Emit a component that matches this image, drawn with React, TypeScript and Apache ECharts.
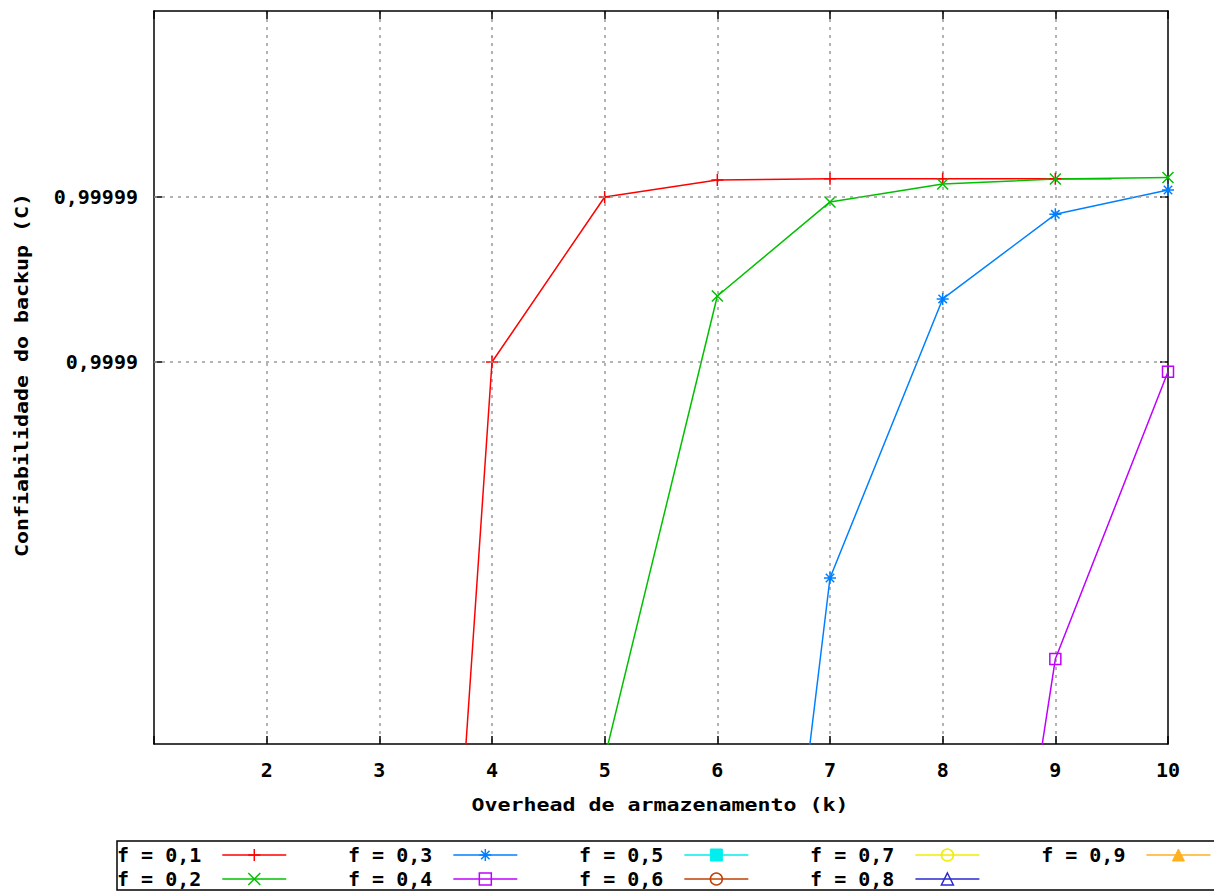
import React, { useEffect, useRef } from 'react';
import * as echarts from 'echarts';

// Series names (legend) and gnuplot-like colours
const SERIES_NAMES = ['f = 0,1', 'f = 0,2', 'f = 0,3', 'f = 0,4', 'f = 0,5', 'f = 0,6', 'f = 0,7', 'f = 0,8', 'f = 0,9'];
const COLORS = ['#ff0000', '#00c000', '#0080ff', '#c000ff', '#00eeee', '#c04000', '#eeee00', '#2a2ad0', '#ffb020'];

// Values: k (storage overhead) vs. number of "nines" of the backup reliability C
// (4 -> 0,9999 ; 5 -> 0,99999). Points below the visible range are kept so the
// lines leave the plot through the bottom edge as in the original.
const F01 = [[3, -6.02], [4, 4.0], [5, 5.0], [6, 5.103], [7, 5.111], [8, 5.111], [9, 5.111], [9.5, 5.111]];
const F02 = [[5, 1.6], [6, 4.4], [7, 4.97], [8, 5.079], [9, 5.109], [10, 5.118]];
const F03 = [[6, -2.96], [7, 2.691], [8, 4.382], [9, 4.895], [10, 5.042]];
const F04 = [[8, -2.24], [9, 2.2], [10, 3.941]];
const F05: number[][] = [];
const F06: number[][] = [];
const F07: number[][] = [];
const F08: number[][] = [];
const F09: number[][] = [];
const SERIES_DATA = [F01, F02, F03, F04, F05, F06, F07, F08, F09];

const X_MIN = 1;
const X_MAX = 10;
const Y_MIN = 1.685;
const Y_MAX = 6.127;
const Y_TICKS = [4, 5];

const X_TITLE = 'Overhead de armazenamento (k)';
const Y_TITLE = 'Confiabilidade do backup (C)';

const PLUS = 'path://M0,5L10,5M5,0L5,10';
const CROSS = 'path://M0,0L10,10M10,0L0,10';
const STAR = 'path://M0,5L10,5M5,0L5,10M1.5,1.5L8.5,8.5M8.5,1.5L1.5,8.5';
const SYMBOLS = [PLUS, CROSS, STAR, 'rect', 'rect', 'circle', 'circle', 'triangle', 'triangle'];
const SYMBOL_SIZES = [12, 11, 12, 11, 10, 7, 7, 10, 10];
const FILLED = [false, false, false, false, true, false, false, false, true];

const FONT = '"DejaVu Sans Mono", monospace';

function yLabel(v: number): string {
  return '0,' + '9'.repeat(Math.round(v));
}

export default function App() {
  const ref = useRef<HTMLDivElement>(null);
  useEffect(() => {
    if (!ref.current) return;
    const chart = echarts.init(ref.current, undefined, { renderer: 'svg' });

    const itemStyleFor = (i: number) =>
      FILLED[i]
        ? { color: COLORS[i], borderColor: COLORS[i], borderWidth: 1 }
        : { color: 'transparent', borderColor: COLORS[i], borderWidth: 1.5 };

    const gridLineStyle = { color: '#9a9a9a', type: [3, 5], width: 1.5 };

    const series: any[] = SERIES_NAMES.map((name, i) => ({
      name,
      type: 'line',
      xAxisIndex: 0,
      yAxisIndex: 0,
      clip: true,
      z: 3,
      symbol: SYMBOLS[i],
      symbolSize: SYMBOL_SIZES[i],
      showAllSymbol: true,
      color: COLORS[i],
      lineStyle: { color: COLORS[i], width: 1.5 },
      itemStyle: itemStyleFor(i),
      data: SERIES_DATA[i].map((p) =>
        Number.isInteger(p[0]) ? p : { value: p, symbol: 'none' }
      ),
    }));

    // horizontal dotted grid lines at the labelled reliability levels
    series.push({
      name: '__grid',
      type: 'line',
      z: 1,
      data: [],
      silent: true,
      markLine: {
        silent: true,
        symbol: 'none',
        label: { show: false },
        lineStyle: gridLineStyle,
        emphasis: { disabled: true },
        data: Y_TICKS.map((v) => ({ yAxis: v })),
      },
    });

    const legendItem = (i: number) => ({
      name: SERIES_NAMES[i],
      itemStyle: itemStyleFor(i),
      lineStyle: { color: COLORS[i], width: 1.5 },
    });

    const legendCommon = {
      orient: 'horizontal',
      left: 117,
      padding: 0,
      align: 'right',
      itemWidth: 64,
      itemHeight: 15,
      itemGap: 61,
      selectedMode: false,
      textStyle: {
        fontFamily: FONT,
        fontWeight: 'bold',
        fontSize: 20,
        color: '#000',
        padding: [0, 16, 0, 0],
      },
    };

    const axisLine = { show: true, lineStyle: { color: '#000', width: 1.5 } };
    const labelFont = { fontFamily: FONT, fontWeight: 'bold', fontSize: 20, color: '#000' };
    const tick = { show: true, inside: true, length: 8, lineStyle: { color: '#000', width: 1.5 } };

    chart.setOption({
      animation: false,
      backgroundColor: '#fff',
      grid: { left: 154, top: 11, right: 46, bottom: 147, containLabel: false },
      xAxis: [
        {
          type: 'value',
          position: 'bottom',
          min: X_MIN,
          max: X_MAX,
          interval: 1,
          axisLine,
          axisTick: tick,
          axisLabel: {
            ...labelFont,
            margin: 16,
            formatter: (v: number) => (v === X_MIN ? '' : String(v)),
          },
          splitLine: { show: true, lineStyle: gridLineStyle, showMinLine: false, showMaxLine: false },
        },
        {
          type: 'value',
          position: 'top',
          min: X_MIN,
          max: X_MAX,
          interval: 1,
          axisLine,
          axisTick: tick,
          axisLabel: { show: false },
          splitLine: { show: false },
        },
      ],
      yAxis: [
        {
          type: 'value',
          position: 'left',
          min: Y_MIN,
          max: Y_MAX,
          axisLine,
          axisTick: { ...tick, customValues: Y_TICKS },
          axisLabel: { ...labelFont, margin: 16, customValues: Y_TICKS, formatter: (v: number) => yLabel(v) },
          splitLine: { show: false },
        },
        {
          type: 'value',
          position: 'right',
          min: Y_MIN,
          max: Y_MAX,
          axisLine,
          axisTick: { ...tick, customValues: Y_TICKS },
          axisLabel: { show: false, customValues: Y_TICKS },
          splitLine: { show: false },
        },
      ],
      legend: [
        { ...legendCommon, top: 845, data: [0, 2, 4, 6, 8].map(legendItem) },
        { ...legendCommon, top: 869, data: [1, 3, 5, 7].map(legendItem) },
      ],
      graphic: [
        {
          type: 'rect',
          shape: { x: 117, y: 841, width: 1120, height: 49 },
          style: { fill: 'none', stroke: '#000', lineWidth: 1.5 },
          silent: true,
          z: -1,
        },
        {
          type: 'text',
          x: 660,
          y: 805,
          scaleX: 1.2,
          style: {
            text: X_TITLE,
            font: `bold 18px ${FONT}`,
            fill: '#000',
            align: 'center',
            verticalAlign: 'middle',
          },
        },
        {
          type: 'text',
          x: 22,
          y: 375,
          rotation: Math.PI / 2,
          scaleX: 1.2,
          style: {
            text: Y_TITLE,
            font: `bold 18px ${FONT}`,
            fill: '#000',
            align: 'center',
            verticalAlign: 'middle',
          },
        },
      ],
      series,
    });

    return () => chart.dispose();
  }, []);

  return (
    <div
      ref={ref}
      style={{ position: 'fixed', left: 0, top: 0, width: 1214, height: 891, background: '#fff' }}
    />
  );
}
